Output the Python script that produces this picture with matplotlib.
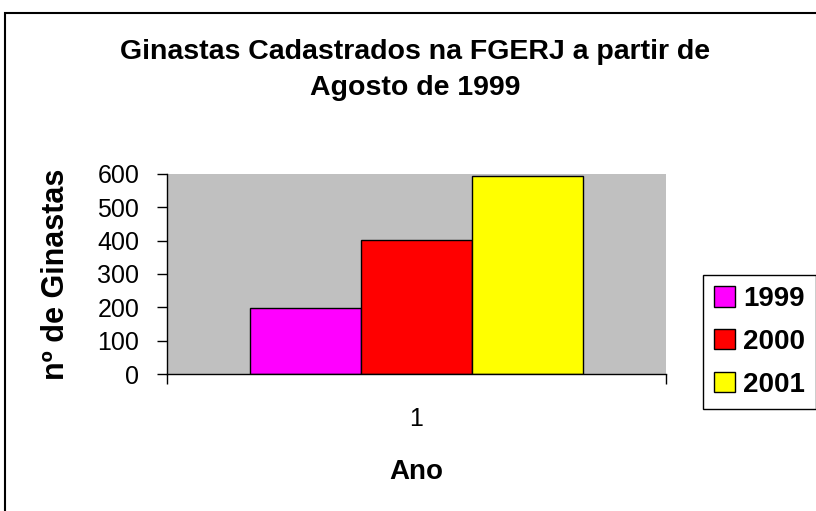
import matplotlib.pyplot as plt
from matplotlib.patches import Rectangle

plt.rcParams['font.family'] = ['Liberation Sans', 'DejaVu Sans']

# dados
anos = ['1999', '2000', '2001']
ginastas = [197, 401, 594]
cores = ['#FF00FF', '#FF0000', '#FFFF00']
categorias = ['1']

fig = plt.figure(figsize=(8.16, 5.11), dpi=100)
ax = fig.add_axes([0.2047, 0.2681, 0.6115, 0.3914])
ax.set_facecolor('#C0C0C0')

largura = 0.223
for i, (ano, v, c) in enumerate(zip(anos, ginastas, cores)):
    ax.bar(1 + (i - 1) * largura, v, width=largura, color=c,
           edgecolor='black', linewidth=1, label=ano)

ax.set_xlim(0.5, 1.5)
ax.set_ylim(0, 600)
ax.set_yticks(range(0, 601, 100))
ax.set_xticks([1])
ax.set_xticklabels(categorias)
ax.set_xticks([0.5, 1.5], minor=True)
ax.tick_params(axis='x', which='major', length=0, pad=24, labelsize=18)
ax.tick_params(axis='x', which='minor', length=7, width=1, direction='out')
ax.tick_params(axis='y', length=7, width=1, direction='out', labelsize=18, pad=13)
for s in ['top', 'right']:
    ax.spines[s].set_visible(False)
for s in ['left', 'bottom']:
    ax.spines[s].set_color('black')
    ax.spines[s].set_linewidth(1)

ax.set_xlabel('Ano', fontsize=20, fontweight='bold', labelpad=20)
ax.set_ylabel('nº de Ginastas', fontsize=22, fontweight='bold')
ax.yaxis.set_label_coords(-0.192, 0.5)

fig.text(0.509, 1 - 70 / 511, 'Ginastas Cadastrados na FGERJ a partir de\nAgosto de 1999',
         ha='center', va='center', fontsize=20.5, fontweight='bold', linespacing=1.5)

leg = fig.legend(loc='center left', bbox_to_anchor=(703 / 816, 1 - 342 / 511),
                 frameon=True, fancybox=False, edgecolor='black', framealpha=1,
                 prop={'size': 20, 'weight': 'bold'}, handlelength=0.75,
                 handleheight=0.75, handletextpad=0.3, labelspacing=0.6,
                 borderpad=0.4, borderaxespad=0)
leg.get_frame().set_linewidth(1)

fig.patches.append(Rectangle((5 / 816, -0.1), 1.2, 1 - 13 / 511 + 0.1,
                             transform=fig.transFigure, fill=False,
                             edgecolor='black', linewidth=1.5))

fig.savefig('out.png', dpi=100)
